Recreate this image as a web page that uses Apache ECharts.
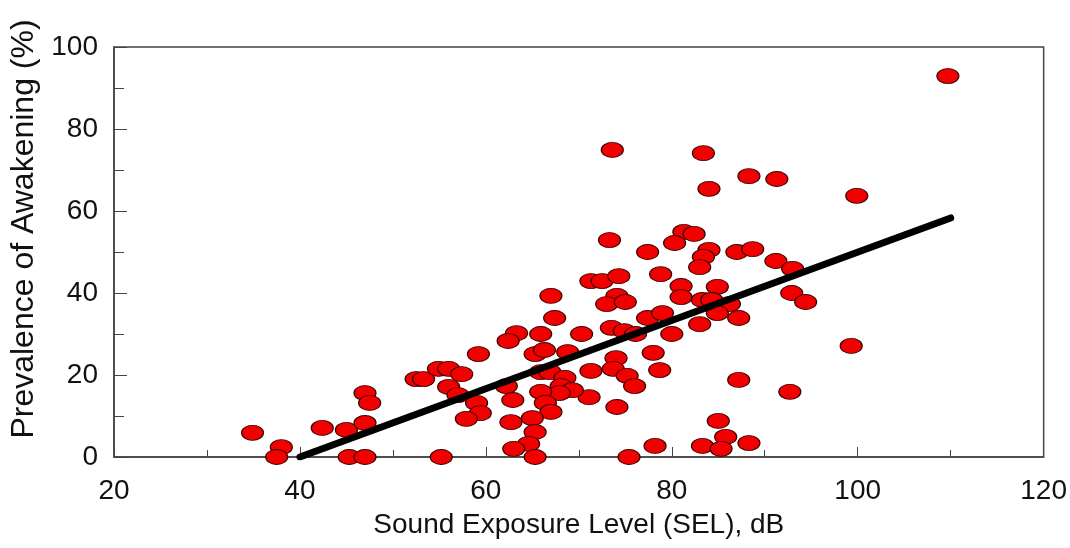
<!DOCTYPE html>
<html>
<head>
<meta charset="utf-8">
<style>
  html, body { margin: 0; padding: 0; background: #fff; }
  #chart { width: 1070px; height: 548px; }
</style>
<script src="https://cdn.jsdelivr.net/npm/echarts@6/dist/echarts.min.js"></script>
</head>
<body>
<div id="chart"></div>
<script>
// sound exposure level (dB) of each site
const sel = [
  109.7, 73.6, 83.4, 88.3, 91.3, 84.0, 99.9, 73.3, 81.3, 82.4,
  80.3, 77.4, 84.0, 83.4, 83.0, 87.0, 88.7, 91.2, 93.0, 78.8,
  71.3, 72.5, 74.3, 81.0, 81.0, 84.9, 74.1, 73.0, 75.0, 67.0,
  67.4, 83.3, 84.3, 92.9, 94.4, 86.2, 77.4, 79.0, 84.9, 87.2,
  83.0, 73.5, 74.9, 76.1, 63.3, 62.4, 65.9, 70.3, 80.0, 59.2,
  65.3, 66.3, 68.8, 74.0, 73.7, 78.0, 78.7, 75.2, 76.0, 71.3,
  71.1, 74.1, 65.9, 66.9, 68.5, 68.1, 69.3, 67.9, 65.9, 62.2,
  62.9, 66.4, 67.0, 59.0, 59.4, 57.9, 62.7, 65.0, 65.3, 64.6,
  63.0, 65.3, 75.4, 78.2, 83.3, 99.3, 87.2, 92.7, 85.0, 85.8,
  85.3, 88.3, 34.9, 38.0, 37.5, 42.4, 45.0, 47.0, 47.5, 47.0,
  45.3, 47.0, 55.2, 52.5, 53.3, 54.9, 56.0, 57.4, 56.0, 57.0
]
// prevalence of awakening (%) for the same sites
const awake = [
  92.9, 74.9, 74.1, 68.5, 67.8, 65.4, 63.7, 52.9, 54.9, 54.4,
  52.2, 50.0, 50.5, 48.8, 46.3, 50.0, 50.7, 47.8, 45.9, 44.6,
  42.9, 42.9, 44.1, 41.7, 39.0, 41.5, 39.3, 37.3, 37.8, 39.3,
  33.9, 38.3, 38.3, 40.0, 37.8, 37.3, 33.9, 35.1, 35.1, 33.9,
  32.4, 31.5, 30.7, 30.0, 30.2, 28.3, 30.0, 30.0, 30.0, 25.1,
  25.1, 26.1, 25.6, 24.1, 21.5, 25.4, 21.2, 19.8, 17.3, 21.0,
  14.6, 12.2, 20.7, 20.7, 19.3, 17.3, 16.3, 15.6, 15.9, 17.3,
  13.9, 13.2, 11.0, 13.2, 10.7, 9.3, 8.5, 9.5, 6.1, 3.2,
  2.0, 0, 0, 2.7, 2.7, 27.1, 18.8, 15.9, 8.8, 4.9,
  2.0, 3.4, 5.9, 2.4, 0, 7.1, 6.6, 15.6, 13.2, 8.3,
  0, 0, 0, 19.0, 19.0, 21.5, 21.5, 20.2, 17.1, 15.1
]
// fitted line end points
const fitSel = [40, 110]
const fitAwake = [0, 58.3]

const points = sel.map((v, i) => [v, awake[i]])
const fit = fitSel.map((v, i) => [v, fitAwake[i]])

const chart = echarts.init(document.getElementById('chart'))
const font = 'Arial, "Liberation Sans", sans-serif'

chart.setOption({
  backgroundColor: '#fff',
  animation: false,
  grid: {
    left: 114,
    right: 22,
    top: 47,
    bottom: 91,
    show: true,
    borderColor: '#444',
    borderWidth: 1.5
  },
  xAxis: {
    type: 'value',
    min: 20,
    max: 120,
    interval: 20,
    name: 'Sound Exposure Level (SEL), dB',
    nameLocation: 'middle',
    nameGap: 54,
    nameTextStyle: { fontSize: 28, color: '#111', fontFamily: font },
    axisLine: { lineStyle: { color: '#444', width: 1.5 } },
    axisTick: { inside: true, length: 10, lineStyle: { color: '#444' } },
    minorTick: { show: true, splitNumber: 2, length: 7, lineStyle: { color: '#444' } },
    splitLine: { show: false },
    axisLabel: { fontSize: 28, color: '#111', margin: 20, fontFamily: font }
  },
  yAxis: {
    type: 'value',
    min: 0,
    max: 100,
    interval: 20,
    name: 'Prevalence of Awakening (%)',
    nameLocation: 'middle',
    nameGap: 60,
    nameTextStyle: { fontSize: 32, color: '#111', fontFamily: font, padding: [0, 0, 0, 46] },
    axisLine: { show: true, lineStyle: { color: '#444', width: 1.5 } },
    axisTick: { show: true, inside: true, length: 13, lineStyle: { color: '#444' } },
    minorTick: { show: true, splitNumber: 2, length: 10, lineStyle: { color: '#444' } },
    splitLine: { show: false },
    axisLabel: { fontSize: 28, color: '#111', margin: 16, fontFamily: font }
  },
  series: [
    {
      type: 'scatter',
      data: points,
      clip: false,
      symbol: 'circle',
      symbolSize: [22, 15],
      itemStyle: { color: '#f20000', borderColor: '#3a0000', borderWidth: 1, opacity: 1 },
      z: 2
    },
    {
      type: 'line',
      data: fit,
      showSymbol: false,
      symbol: 'none',
      lineStyle: { color: '#000', width: 7, cap: 'round' },
      z: 3
    }
  ]
})
</script>
</body>
</html>
